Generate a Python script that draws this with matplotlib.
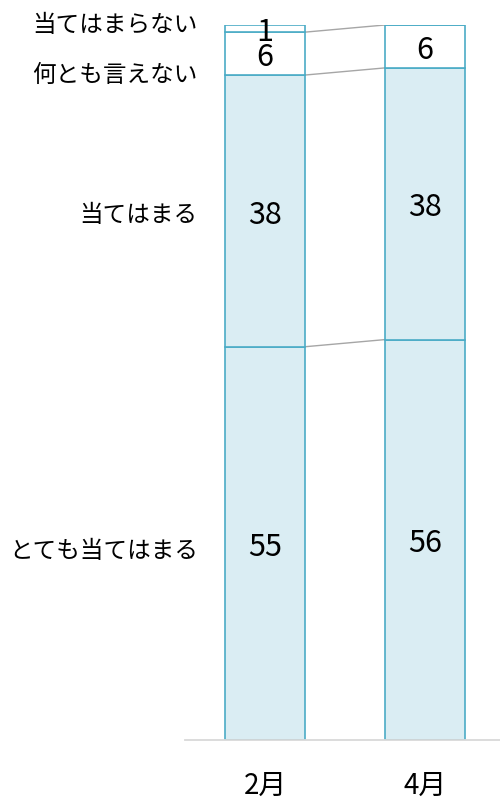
import matplotlib
matplotlib.use("Agg")
import matplotlib.pyplot as plt

plt.rcParams['font.family'] = ['Noto Sans CJK JP', 'DejaVu Sans']

months = ["2月", "4月"]
series = ["とても当てはまる", "当てはまる", "何とも言えない", "当てはまらない"]
values = {
    "とても当てはまる": [55, 56],
    "当てはまる": [38, 38],
    "何とも言えない": [6, 6],
    "当てはまらない": [1, 0],
}
# vertical positions of the series names on the left (data units)
series_label_y = [27, 74, 93.5, 100.5]

edge = "#4BACC6"
fills = ["#DAEDF3", "#DAEDF3", "#FFFFFF", "#FFFFFF"]
link = "#A6A6A6"
shift = (0, -3)  # small downward nudge for text, in points

fig = plt.figure(figsize=(5, 8), dpi=100)
ax = fig.add_axes([0.37, 0.075, 0.63, 1 - 25 / 800 - 0.075])

x = [0, 1]
width = 0.5
bottoms = [0, 0]
tops_per_series = []
for name, fc in zip(series, fills):
    vals = values[name]
    ax.bar(x, vals, width=width, bottom=bottoms, color=fc, edgecolor=edge,
           linewidth=1.2, zorder=2)
    for xi, v, b in zip(x, vals, bottoms):
        if v > 0:
            ax.annotate(str(v), (xi, b + v / 2), xytext=shift,
                        textcoords="offset points", ha="center", va="center",
                        fontsize=22, color="#000000", zorder=3)
    bottoms = [b + v for b, v in zip(bottoms, vals)]
    tops_per_series.append(list(bottoms))

# connector lines between cumulative boundaries
for tops in tops_per_series[:-1]:
    ax.plot([x[0] + width / 2, x[1] - width / 2], tops, color=link,
            linewidth=1.0, zorder=1)

# series names on the left
for name, y in zip(series, series_label_y):
    ax.annotate(name, (-0.42, y), xytext=shift, textcoords="offset points",
                ha="right", va="center", fontsize=17, color="#000000",
                annotation_clip=False)

ax.set_xlim(-0.5, 1.47)
ax.set_ylim(0, 100)
ax.set_xticks(x)
ax.set_xticklabels(months, fontsize=20)
ax.tick_params(axis="x", length=0, pad=22)
ax.set_yticks([])
for side in ["left", "right", "top"]:
    ax.spines[side].set_visible(False)
ax.spines["bottom"].set_color("#D9D9D9")
ax.spines["bottom"].set_linewidth(1.3)

fig.savefig("out.png", dpi=100)
